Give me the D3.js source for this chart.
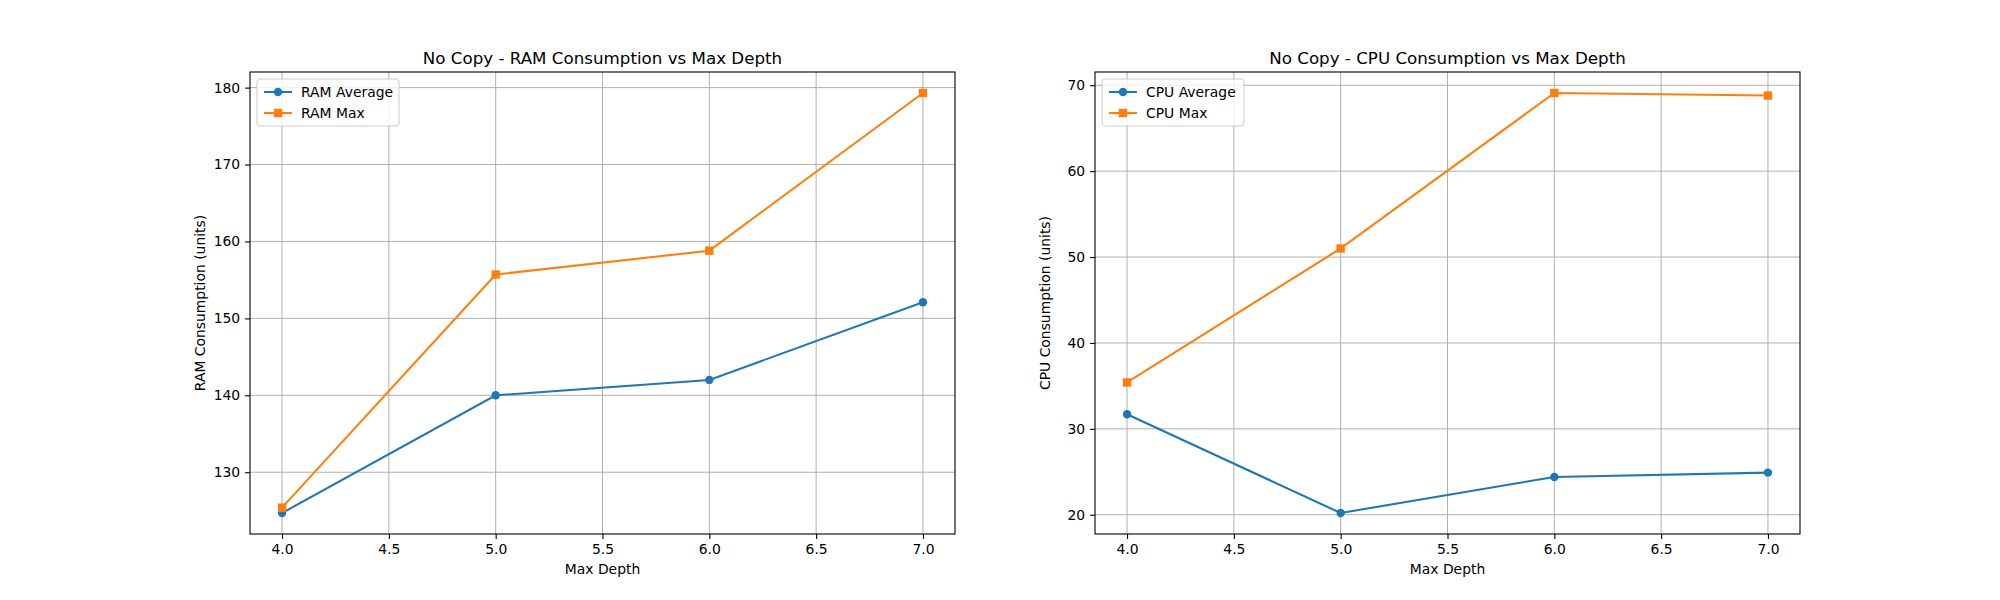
<!DOCTYPE html>
<html>
<head>
<meta charset="utf-8">
<script src="https://cdn.jsdelivr.net/npm/d3@7"></script>
<style>
    body { margin: 0; background: white; }
    text { font-family: "DejaVu Sans", sans-serif; fill: black; }
</style>
</head>
<body>
<svg id="chart" width="2000" height="600"></svg>
<script>
// data
let depths = [4, 5, 6, 7];
let ramAverage = [124.7, 140.0, 142.0, 152.1];
let ramMax = [125.4, 155.7, 158.8, 179.3];
let cpuAverage = [31.7, 20.2, 24.4, 24.9];
let cpuMax = [35.4, 51.0, 69.1, 68.8];
let xTicks = [4.0, 4.5, 5.0, 5.5, 6.0, 6.5, 7.0];
let ramTicks = [130, 140, 150, 160, 170, 180];
let cpuTicks = [20, 30, 40, 50, 60, 70];

let blue = "#1f77b4";
let orange = "#ff7f0e";

let svg = d3.select("#chart");

function drawPanel(left, right, title, yLabel, avg, max, yTicks, names) {
    let top = 72, bottom = 534;
    let g = svg.append("g");

    let all = avg.concat(max);
    let lo = d3.min(all), hi = d3.max(all), pad = (hi - lo) * 0.05;

    let scaleX = d3.scaleLinear().domain([3.85, 7.15]).range([left, right]);
    let scaleY = d3.scaleLinear().domain([lo - pad, hi + pad]).range([bottom, top]);

    // grid
    g.append("g").selectAll("line").data(xTicks).enter().append("line")
        .attr("x1", d => scaleX(d)).attr("x2", d => scaleX(d))
        .attr("y1", top).attr("y2", bottom)
        .attr("stroke", "#b0b0b0").attr("stroke-width", 1);
    g.append("g").selectAll("line").data(yTicks).enter().append("line")
        .attr("y1", d => scaleY(d)).attr("y2", d => scaleY(d))
        .attr("x1", left).attr("x2", right)
        .attr("stroke", "#b0b0b0").attr("stroke-width", 1);

    // axes
    let xAxis = g.append("g").attr("transform", `translate(0,${bottom})`)
        .call(d3.axisBottom(scaleX).tickValues(xTicks).tickFormat(d3.format(".1f")).tickSizeOuter(0).tickSize(4.9).tickPadding(4.9));
    let yAxis = g.append("g").attr("transform", `translate(${left},0)`)
        .call(d3.axisLeft(scaleY).tickValues(yTicks).tickSizeOuter(0).tickSize(4.9).tickPadding(4.9));
    for (let a of [xAxis, yAxis]) {
        a.select(".domain").remove();
        a.selectAll("text").style("font-size", "13.9px").style("font-family", "DejaVu Sans");
        a.selectAll("line").attr("stroke-width", 1.1);
    }

    // lines
    let line = d3.line().x((d, i) => scaleX(depths[i])).y(d => scaleY(d));
    g.append("path").datum(avg).attr("d", line).attr("fill", "none").attr("stroke", blue).attr("stroke-width", 2.08);
    g.append("path").datum(max).attr("d", line).attr("fill", "none").attr("stroke", orange).attr("stroke-width", 2.08);

    g.selectAll(".dot").data(avg).enter().append("circle")
        .attr("cx", (d, i) => scaleX(depths[i])).attr("cy", d => scaleY(d))
        .attr("r", 4.2).attr("fill", blue);
    g.selectAll(".sq").data(max).enter().append("rect")
        .attr("x", (d, i) => scaleX(depths[i]) - 4.2).attr("y", d => scaleY(d) - 4.2)
        .attr("width", 8.4).attr("height", 8.4).attr("fill", orange);

    // frame
    g.append("rect").attr("x", left).attr("y", top)
        .attr("width", right - left).attr("height", bottom - top)
        .attr("fill", "none").attr("stroke", "black").attr("stroke-width", 1.1);

    // titles
    g.append("text").attr("x", (left + right) / 2).attr("y", top - 8)
        .attr("text-anchor", "middle").style("font-size", "16.7px").text(title);
    g.append("text").attr("x", (left + right) / 2).attr("y", bottom + 40)
        .attr("text-anchor", "middle").style("font-size", "13.9px").text("Max Depth");
    g.append("text").attr("transform", `translate(${left - 45},${(top + bottom) / 2}) rotate(-90)`)
        .attr("text-anchor", "middle").style("font-size", "13.9px").text(yLabel);

    // legend
    let lg = g.append("g").attr("transform", `translate(${left + 7},${top + 7})`);
    lg.append("rect").attr("width", 142).attr("height", 47).attr("rx", 3)
        .attr("fill", "white").attr("fill-opacity", 0.8).attr("stroke", "#cccccc");
    let items = [[names[0], blue, "circle"], [names[1], orange, "square"]];
    items.forEach((it, i) => {
        let y = 13 + i * 21;
        lg.append("line").attr("x1", 7).attr("x2", 35).attr("y1", y).attr("y2", y)
            .attr("stroke", it[1]).attr("stroke-width", 2.08);
        if (it[2] === "circle") {
            lg.append("circle").attr("cx", 21).attr("cy", y).attr("r", 4.2).attr("fill", it[1]);
        } else {
            lg.append("rect").attr("x", 16.8).attr("y", y - 4.2).attr("width", 8.4).attr("height", 8.4).attr("fill", it[1]);
        }
        lg.append("text").attr("x", 44).attr("y", y + 5).style("font-size", "13.9px").text(it[0]);
    });
}

drawPanel(250, 955, "No Copy - RAM Consumption vs Max Depth", "RAM Consumption (units)",
    ramAverage, ramMax, ramTicks, ["RAM Average", "RAM Max"]);
drawPanel(1095, 1800, "No Copy - CPU Consumption vs Max Depth", "CPU Consumption (units)",
    cpuAverage, cpuMax, cpuTicks, ["CPU Average", "CPU Max"]);
</script>
</body>
</html>
